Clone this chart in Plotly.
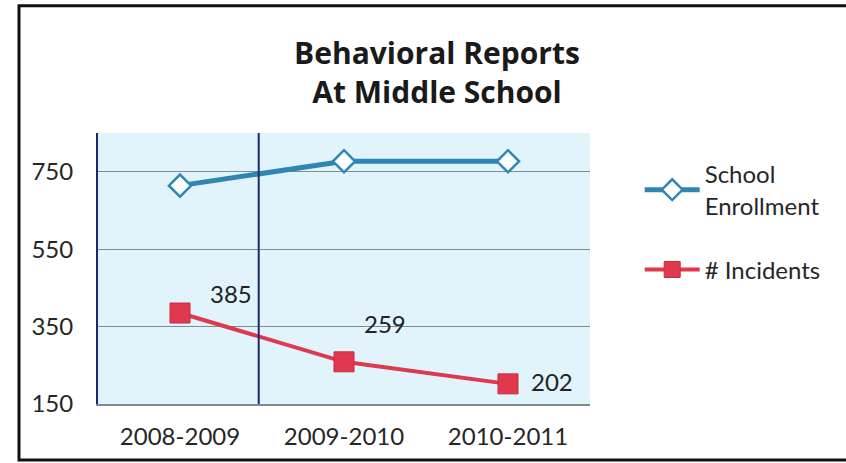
import plotly.graph_objects as go

years = ["2008-2009", "2009-2010", "2010-2011"]
enrollment = [714, 777, 777]
incidents = [385, 259, 202]
y_ticks = [150, 350, 550, 750]

FONT = "Lato"
BLUE = "#2f86b3"
RED = "#e0394f"
NAVY = "#1c2a6b"

fig = go.Figure()
fig.add_trace(go.Scatter(
    x=years, y=enrollment, name="School<br>Enrollment", mode="lines+markers",
    line=dict(color=BLUE, width=5),
    marker=dict(symbol="diamond", size=17, color="white", line=dict(color=BLUE, width=2.5)),
    legendgroup="a",
))
fig.add_trace(go.Scatter(
    x=years, y=incidents, name="# Incidents", mode="lines+markers",
    line=dict(color=RED, width=4),
    marker=dict(symbol="square", size=20, color=RED, line=dict(color="#c92a40", width=1)),
    legendgroup="b",
))

# data labels for incidents
shifts = [(51, 20), (41, 38), (44, 2)]
for yr, v, (dx, dy) in zip(years, incidents, shifts):
    fig.add_annotation(x=yr, y=v, text=str(v), showarrow=False,
                       xshift=dx, yshift=dy, font=dict(family=FONT, size=24, color="#222222"))

# vertical divider line between first and second categories
fig.add_shape(type="line", xref="x", yref="paper", x0=0.48, x1=0.48, y0=0, y1=1,
              line=dict(color=NAVY, width=2))
# outer frame (right edge falls outside the picture, as in the scan)
fig.add_shape(type="rect", xref="paper", yref="paper",
              x0=-0.1606, x1=1.535, y0=-0.2066, y1=1.47,
              line=dict(color="#111111", width=3), layer="above")

fig.update_layout(
    width=846, height=463,
    margin=dict(l=98, r=256, t=133, b=59),
    paper_bgcolor="white",
    plot_bgcolor="#e1f4fb",
    font=dict(family=FONT, size=24, color="#262626"),
    title=dict(text="<b>Behavioral Reports<br>At Middle School</b>",
               x=(437 / 846), xanchor="center", y=0.862, yanchor="top",
               font=dict(family="Open Sans", size=30, color="#1a1a1a")),
    showlegend=True,
    legend=dict(x=1.101, xanchor="left", y=0.93, yanchor="top",
                font=dict(family=FONT, size=24, color="#262626"),
                bgcolor="rgba(0,0,0,0)", itemwidth=55,
                traceorder="grouped", tracegroupgap=30),
    xaxis=dict(type="category", range=[-0.5, 2.5], showgrid=False,
               showline=True, linecolor="#7f8c90", linewidth=1.5,
               ticks="", ticklabelstandoff=10, zeroline=False,
               tickfont=dict(family=FONT, size=24, color="#262626")),
    yaxis=dict(range=[150, 850], tickvals=y_ticks, showgrid=True,
               gridcolor="#7f8c90", gridwidth=1.2,
               showline=True, linecolor=NAVY, linewidth=2,
               ticks="", ticklabelstandoff=18, zeroline=False,
               tickfont=dict(family=FONT, size=24, color="#262626")),
)

fig.write_html("out.html", config={"displayModeBar": False},
               post_script="document.body.style.margin='0';")
